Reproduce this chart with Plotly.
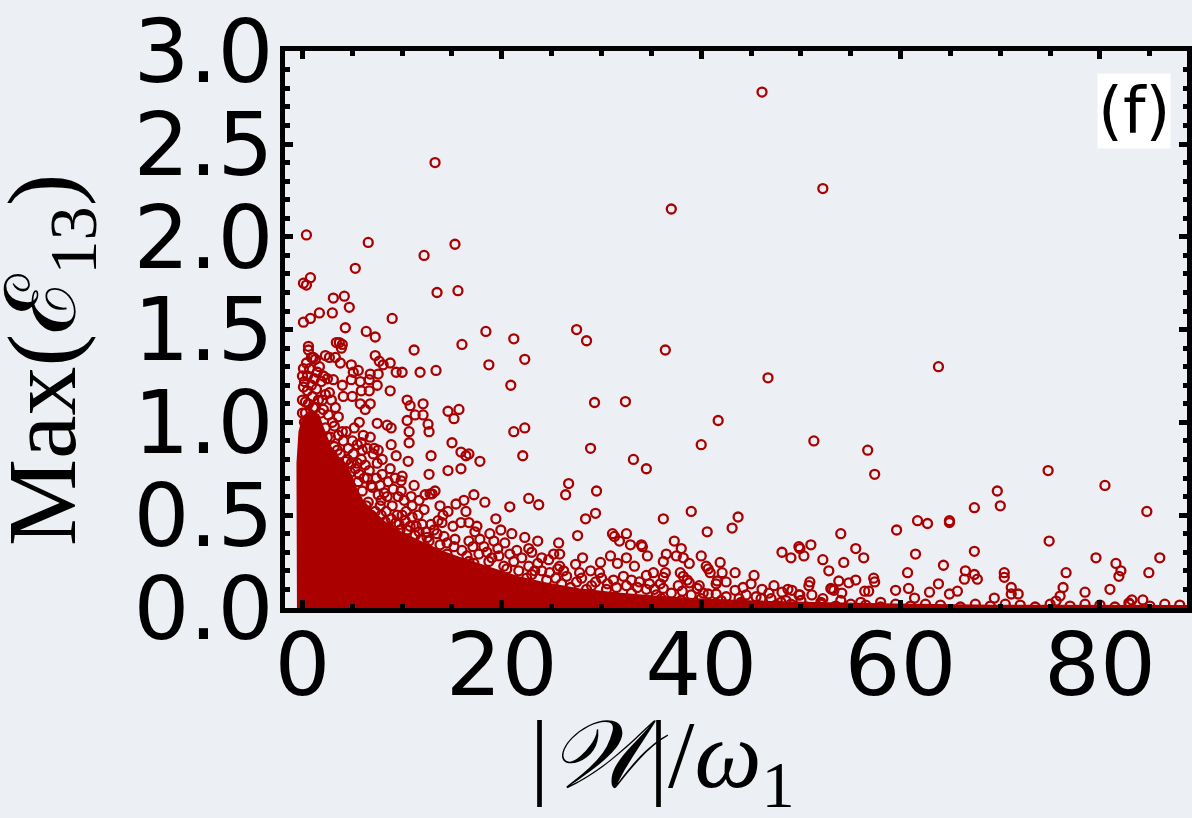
import plotly.graph_objects as go

# ---- dense core outline (|W|/w1, Max(E13)) ----
core_x = [-0.45, -0.5, -0.3, 0.1, 0.8, 1.6, 2.2, 2.8, 3.6, 4.4, 5.0, 5.4, 6.0, 7.0, 8.3, 9.8,
          11.7, 13.7, 15.7, 17.7, 19.7, 21.7, 24.2, 27.7, 31.6, 35.6, 39.6, 45.6, 51.5, 59.5,
          69.5, 88.8, 88.8]
core_y = [0.0, 0.78, 0.95, 1.03, 1.06, 1.04, 0.95, 0.87, 0.81, 0.77, 0.70, 0.64,
          0.58, 0.52, 0.46, 0.41, 0.36, 0.31, 0.27, 0.235, 0.20, 0.165, 0.135, 0.10,
          0.078, 0.06, 0.047, 0.034, 0.026, 0.018, 0.012, 0.010, 0.0]

# ---- sparse high outliers ----
high_x = [46.1, 13.3, 52.2, 37.0, 0.4, 6.6, 12.2, 15.3, 5.3, 0.1, 0.4, 0.8, 3.1, 4.2, 4.7, 13.5,
          15.6, 0.1, 0.8, 1.7, 3.0, 9.0, 4.3, 6.4, 7.3, 18.4, 21.2, 27.5, 28.5, 16.0, 36.4, 22.3,
          18.7, 63.8, 46.7, 20.9, 11.2, 29.3, 32.4, 41.7, 40.0, 51.3, 56.7, 57.4, 74.8, 80.5,
          28.9, 33.2, 34.5, 22.3, 21.2, 22.1, 26.7, 26.4, 29.5, 69.7, 70.0, 67.4, 84.7, 64.9,
          64.9, 61.7, 62.7, 59.6, 54.0, 74.9, 67.4, 86.0, 79.6, 81.6, 82.1, 81.9, 84.9]
high_y = [2.78, 2.40, 2.26, 2.15, 2.01, 1.97, 1.90, 1.96, 1.83, 1.75, 1.74, 1.78, 1.67, 1.68,
          1.62, 1.70, 1.71, 1.54, 1.56, 1.59, 1.59, 1.56, 1.51, 1.49, 1.46, 1.49, 1.45, 1.50,
          1.44, 1.42, 1.39, 1.34, 1.31, 1.30, 1.24, 1.20, 1.39, 1.107, 1.112, 1.01, 0.88, 0.90,
          0.85, 0.72, 0.74, 0.66, 0.86, 0.80, 0.75, 0.97, 0.95, 0.82, 0.67, 0.61, 0.63, 0.63,
          0.55, 0.54, 0.52, 0.47, 0.46, 0.47, 0.455, 0.42, 0.40, 0.36, 0.305, 0.27, 0.27, 0.24,
          0.20, 0.17, 0.19]

# ---- cluster near the left edge ----
left_x = [3.4, 3.7, 4.0, 3.9, 0.6, 0.6, 1.1, 1.3, 2.3, 2.7, 3.3, 3.8, 7.3, 7.7, 8.1, 8.8, 4.9,
          5.1, 5.6, 6.8, 7.6, 7.5, 9.4, 10.0, 11.8, 13.4, 0.1, 0.7, 1.7, 1.2, 2.1, 2.5, 3.1, 4.0,
          4.9, 5.8, 6.7, 0.1, 0.5, 1.0, 2.7, 0.3, 4.1, 5.0, 5.9, 6.7, 8.8, 5.8, 6.8, 6.3, 10.5,
          10.8, 12.1, 11.3, 12.1, 14.6, 15.7, 15.2, 10.5, 12.6, 5.7, 7.5, 8.9, 8.5,
          0.2, 0.5, 0.9, 1.4, 1.9, 2.3, 0.3, 0.6, 1.1, 1.6, 2.1, 2.6, 0.4, 1.5, 2.9, 3.3, 3.6,
          0.0, 0.0, 0.9]
left_y = [1.43, 1.43, 1.42, 1.40, 1.41, 1.39, 1.35, 1.34, 1.36, 1.35, 1.35, 1.32, 1.36, 1.33,
          1.31, 1.32, 1.31, 1.27, 1.28, 1.26, 1.26, 1.20, 1.27, 1.27, 1.27, 1.28, 1.29, 1.29,
          1.30, 1.235, 1.25, 1.235, 1.23, 1.20, 1.23, 1.22, 1.23, 1.19, 1.17, 1.14, 1.16, 1.11,
          1.14, 1.14, 1.17, 1.17, 1.17, 1.10, 1.10, 1.07, 1.12, 1.09, 1.10, 1.04, 1.04, 1.06,
          1.07, 1.02, 1.01, 0.99, 1.00, 0.995, 0.97, 0.985,
          1.22, 1.25, 1.20, 1.18, 1.22, 1.15, 1.05, 1.10, 1.08, 1.12, 1.07, 1.04, 1.32, 1.27,
          1.12, 1.08, 1.03, 1.12, 1.25, 1.35]

# ---- middle band ----
mid_x = [10.7, 10.7, 8.9, 12.7, 5.9, 7.6, 7.2, 12.9, 10.6, 9.4, 15.0, 15.9, 16.7, 16.4, 17.8,
         15.9, 14.6, 12.7, 10.0, 9.9, 11.2, 13.3, 13.0, 12.8, 17.2, 18.3, 19.4, 20.8, 22.7, 15.4,
         16.2, 16.4, 15.9, 16.7, 17.3, 14.1, 14.0, 12.2, 10.4, 11.0, 11.4, 9.5, 9.4, 9.1, 7.9,
         10.2, 22.7, 23.6, 23.7, 28.4, 29.4, 36.2, 39.0, 43.7, 43.1, 40.6, 27.6, 25.7,
         1.5, 2.5, 3.5, 4.5, 3.0, 4.0, 5.0, 5.5, 6.5, 7.0, 6.0, 7.5, 8.0, 8.5, 9.0, 7.8, 10.0,
         11.0, 12.0, 13.5, 14.5, 12.5, 10.5, 6.8, 0.0, 0.2, 1.0, 1.8, 1.3, 2.0, 4.8, 4.3, 3.8,
         3.2, 2.8, 2.3, 5.6, 6.0, 6.6, 7.3, 8.3, 9.8, 11.7, 13.2, 12.7, 14.2, 15.2, 16.7, 18.2,
         19.2, 17.7, 19.7, 16.7, 18.7, 20.2, 21.2, 21.7, 22.7,
         3.2, 3.6, 4.1, 4.6, 5.1, 5.5, 5.9, 6.3, 6.7, 4.4, 5.2, 6.1, 6.5, 7.1, 7.4, 6.9, 6.2,
         5.7, 5.3, 4.9, 7.8, 8.2, 7.6, 8.6, 9.3, 8.8, 8.0, 9.6, 9.9,
         6.4, 6.9, 7.4, 7.9, 8.4, 8.9, 8.6, 9.2, 9.7, 10.3, 10.8, 11.3, 11.9, 12.4, 12.9, 13.6,
         11.6, 10.9, 11.7, 12.3, 13.8, 14.6, 15.1,
         12.3, 13.0, 13.8, 14.5, 15.3, 16.0, 16.5, 17.1, 17.8, 18.5, 19.0, 19.6, 20.3, 20.8,
         21.5, 22.0, 21.0, 19.9, 18.8, 17.5, 22.3, 23.0, 14.8, 17.2, 20.5, 23.3, 22.5]
mid_y = [0.95, 0.89, 0.88, 0.95, 0.89, 0.85, 0.86, 0.82, 0.79, 0.82, 0.89, 0.84, 0.83, 0.82,
         0.79, 0.75, 0.74, 0.72, 0.71, 0.685, 0.66, 0.63, 0.615, 0.615, 0.61, 0.57, 0.48, 0.545,
         0.59, 0.56, 0.58, 0.52, 0.46, 0.46, 0.41, 0.50, 0.46, 0.53, 0.52, 0.49, 0.44, 0.50,
         0.46, 0.64, 0.58, 0.58, 0.32, 0.36, 0.556, 0.48, 0.51, 0.48, 0.52, 0.49, 0.43, 0.41,
         0.39, 0.35,
         0.98, 0.92, 0.85, 0.80, 1.0, 0.95, 0.90, 0.78, 0.70, 0.65, 0.85, 0.78, 0.72, 0.60,
         0.55, 0.55, 0.50, 0.55, 0.45, 0.40, 0.35, 0.38, 0.42, 0.92, 1.05, 1.00, 1.02, 1.05,
         1.08, 1.12, 0.73, 0.79, 0.83, 0.87, 0.92, 0.97, 0.68, 0.63, 0.57, 0.52, 0.465, 0.42,
         0.41, 0.42, 0.36, 0.385, 0.33, 0.36, 0.33, 0.36, 0.29, 0.28, 0.25, 0.25, 0.225, 0.25,
         0.20, 0.225,
         0.98, 0.93, 0.90, 0.86, 0.83, 0.88, 0.80, 0.77, 0.74, 0.95, 0.97, 0.93, 0.86, 0.83,
         0.70, 0.66, 0.70, 0.72, 0.75, 0.78, 0.66, 0.62, 0.61, 0.68, 0.70, 0.75, 0.80, 0.60,
         0.63,
         0.55, 0.50, 0.47, 0.50, 0.52, 0.48, 0.43, 0.40, 0.45, 0.47, 0.44, 0.39, 0.37, 0.41,
         0.45, 0.47, 0.50, 0.60, 0.58, 0.61, 0.55, 0.52, 0.44,
         0.33, 0.30, 0.34, 0.29, 0.37, 0.31, 0.28, 0.33, 0.37, 0.30, 0.27, 0.32, 0.35, 0.29,
         0.31, 0.27, 0.40, 0.42, 0.40, 0.44, 0.38, 0.30, 0.25, 0.24, 0.21, 0.20, 0.16]

# ---- low band (x 23-58) ----
low_x = [31.1, 31.3, 32.5, 31.8, 32.9, 34.0, 34.1, 34.6, 37.3, 38.0, 36.5, 37.5, 38.2, 38.8,
         40.0, 36.2, 33.3, 32.5, 31.6, 30.9, 29.9, 28.1, 28.9, 27.4, 25.8, 25.6, 24.7, 23.6,
         24.0, 25.2, 25.8, 48.1, 49.0, 49.8, 50.3, 51.0, 52.2, 52.8, 54.3, 41.9, 43.4, 45.3,
         40.5, 40.7, 40.9, 41.6, 41.5, 42.1, 42.5, 43.4, 44.5, 46.1, 48.1, 48.7, 49.1, 49.8,
         50.8, 50.9, 51.1, 52.2, 53.1, 53.3, 53.8, 54.1, 31.2, 33.8, 34.5, 35.2, 36.2, 36.4,
         37.9, 38.2, 38.6, 36.2, 37.7, 38.8, 39.8, 39.6, 40.2, 40.7, 41.5,
         24.5, 26.0, 27.5, 29.0, 30.5, 26.5, 28.0, 30.0, 32.5, 34.5, 33.0, 35.5, 23.0, 24.0,
         24.8, 25.4, 26.2, 26.9, 27.8, 28.5, 29.4, 29.8, 30.6, 31.5, 32.2, 33.0, 33.6, 34.8,
         35.3, 35.9, 37.0, 38.1, 39.0, 42.5, 43.8, 45.5, 47.0, 48.5, 46.8, 44.2, 45.0, 47.3,
         36.0, 38.0, 40.0, 42.0, 44.0, 46.0, 48.0, 50.0, 52.0, 54.0, 56.0, 58.0]
low_y = [0.40, 0.385, 0.40, 0.36, 0.34, 0.34, 0.33, 0.28, 0.36, 0.32, 0.29, 0.28, 0.27, 0.24,
         0.28, 0.25, 0.225, 0.27, 0.24, 0.28, 0.245, 0.27, 0.20, 0.235, 0.225, 0.21, 0.26, 0.24,
         0.27, 0.29, 0.29, 0.30, 0.27, 0.33, 0.28, 0.34, 0.26, 0.20, 0.245, 0.245, 0.19, 0.175,
         0.225, 0.21, 0.19, 0.145, 0.13, 0.19, 0.14, 0.095, 0.07, 0.10, 0.085, 0.10, 0.095, 0.07,
         0.12, 0.14, 0.07, 0.05, 0.10, 0.095, 0.145, 0.08, 0.15, 0.14, 0.175, 0.19, 0.165, 0.19,
         0.19, 0.17, 0.15, 0.105, 0.12, 0.135, 0.12, 0.105, 0.08, 0.075, 0.075,
         0.15, 0.13, 0.14, 0.12, 0.10, 0.17, 0.16, 0.16, 0.12, 0.10, 0.08, 0.07, 0.18, 0.20,
         0.19, 0.16, 0.20, 0.11, 0.19, 0.10, 0.14, 0.19, 0.13, 0.11, 0.17, 0.15, 0.11, 0.13,
         0.10, 0.13, 0.08, 0.09, 0.07, 0.06, 0.05, 0.06, 0.05, 0.04, 0.08, 0.11, 0.13, 0.12,
         0.05, 0.04, 0.05, 0.04, 0.03, 0.05, 0.03, 0.04, 0.03, 0.04, 0.03, 0.03]

# ---- right tail ----
tail_x = [55.5, 56.3, 61.5, 60.7, 64.3, 66.5, 67.4, 67.7, 66.4, 70.4, 70.4, 76.6, 76.3, 78.5,
          81.0, 71.1, 71.8, 71.1, 69.4, 63.8, 62.9, 60.8, 61.4, 64.9, 65.7, 54.8, 55.5, 57.3,
          57.4, 53.0, 56.4, 56.8, 59.5, 49.9, 76.0, 75.6, 83.2, 84.3, 82.9, 49.9,
          44.0, 46.0, 47.5, 49.0, 50.5, 52.0, 53.5, 55.0, 56.5, 58.0, 59.5, 61.0, 62.5, 64.0,
          66.0, 67.5, 69.0, 70.5, 72.0, 73.5, 75.0, 77.0, 78.5, 80.0, 81.5, 83.0, 85.0, 86.5,
          88.0]
tail_y = [0.32, 0.27, 0.29, 0.19, 0.23, 0.20, 0.18, 0.155, 0.155, 0.19, 0.165, 0.19, 0.11,
          0.085, 0.10, 0.11, 0.075, 0.075, 0.053, 0.13, 0.085, 0.105, 0.053, 0.075, 0.09, 0.135,
          0.15, 0.16, 0.14, 0.105, 0.09, 0.09, 0.095, 0.07, 0.064, 0.037, 0.043, 0.043, 0.027,
          0.32,
          0.02, 0.01, 0.015, 0.02, 0.005, 0.02, 0.01, 0.02, 0.015, 0.005, 0.02, 0.01, 0.02,
          0.015, 0.005, 0.02, 0.01, 0.02, 0.015, 0.005, 0.02, 0.01, 0.02, 0.015, 0.005, 0.02,
          0.01, 0.02, 0.015]

x_ticks = [0, 20, 40, 60, 80]
y_ticks = [0.0, 0.5, 1.0, 1.5, 2.0, 2.5, 3.0]
y_ticklabels = ["0.0", "0.5", "1.0", "1.5", "2.0", "2.5", "3.0"]

RED = "#aa0000"
BG = "#eceff4"

pts_x = high_x + left_x + mid_x + low_x + tail_x
pts_y = high_y + left_y + mid_y + low_y + tail_y

fig = go.Figure()
fig.add_trace(go.Scatter(x=core_x, y=core_y, mode="lines", fill="toself",
                         fillcolor=RED, line=dict(color=RED, width=2),
                         hoverinfo="skip", showlegend=False))
fig.add_trace(go.Scatter(x=pts_x, y=pts_y, mode="markers",
                         marker=dict(symbol="circle-open", size=9, color=RED,
                                     line=dict(width=2.3, color=RED)),
                         showlegend=False))

axis_common = dict(showline=True, linecolor="black", linewidth=5, mirror="ticks",
                   ticks="inside", tickcolor="black", tickwidth=4.5, ticklen=8,
                   showgrid=False, zeroline=False, ticklabeloverflow="allow",
                   tickfont=dict(family="DejaVu Sans", size=88, color="black"))

fig.update_xaxes(range=[-1.75, 88.73], tickvals=x_ticks, ticklabelstandoff=-24,
                 minor=dict(dtick=5, ticks="inside", ticklen=4.5, tickwidth=4.5,
                            tickcolor="black", showgrid=False),
                 **axis_common)
fig.update_yaxes(range=[-0.0005, 3.0015], tickvals=y_ticks, ticktext=y_ticklabels,
                 ticklabelstandoff=-11,
                 minor=dict(dtick=0.1, ticks="inside", ticklen=4.5, tickwidth=4.5,
                            tickcolor="black", showgrid=False),
                 **axis_common)

fig.add_annotation(text="|<i>𝒲</i>|/<i>ω</i><sub>1</sub>", xref="paper", yref="paper",
                   x=0.418, y=0, xanchor="center", yanchor="top", yshift=-92,
                   showarrow=False,
                   font=dict(family="Liberation Serif", size=95, color="black"))
fig.add_annotation(text="Max(ℰ<sub>13</sub>)", xref="paper", yref="paper",
                   x=0, y=0.446, xanchor="right", yanchor="middle", xshift=-172,
                   textangle=-90, showarrow=False,
                   font=dict(family="Liberation Serif", size=98, color="black"))
fig.add_annotation(text="(f)", xref="paper", yref="paper", x=1, y=1,
                   xanchor="right", yanchor="top", xshift=-16, yshift=-22,
                   showarrow=False, bgcolor="white", borderpad=0,
                   font=dict(family="DejaVu Sans", size=64, color="black"))

fig.update_layout(width=1192, height=818, paper_bgcolor=BG, plot_bgcolor=BG,
                  margin=dict(l=285, r=0, t=46, b=210), showlegend=False)

fig.write_html("out.html")
